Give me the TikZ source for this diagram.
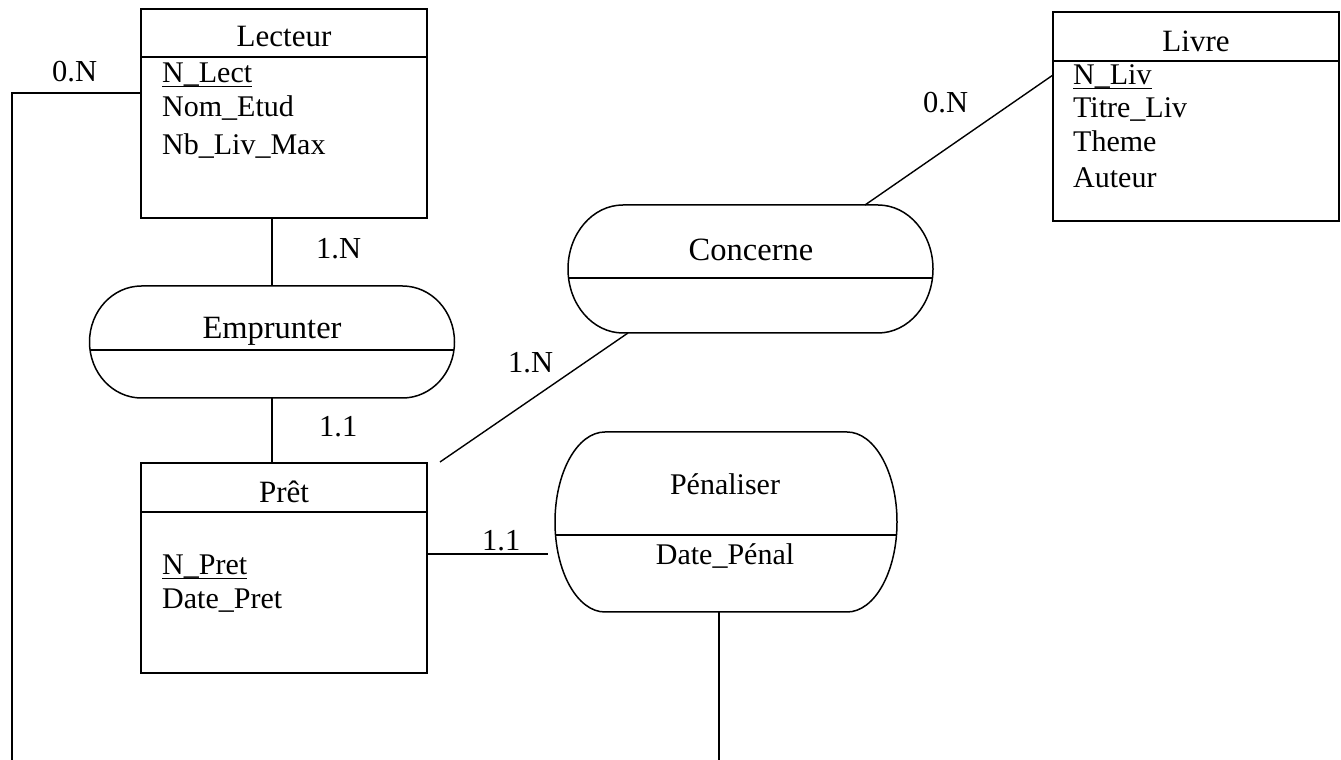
\documentclass[tikz,border=0pt]{standalone}
\usepackage{fontspec}
\setmainfont{Liberation Serif}
\usetikzlibrary{calc}
\newcommand\ulin[1]{\setbox0\hbox{#1}\rlap{\rule[-4pt]{\wd0}{1.4pt}}\box0}
\tikzset{
  x=1pt, y=1pt,
  entity/.style={draw, line width=1.6pt, rectangle, inner sep=0pt, outer sep=0pt},
  relbox/.style={draw=none, rectangle, inner sep=0pt, outer sep=0pt},
  shapeline/.style={line width=1.5pt},
  link/.style={line width=1.4pt},
  attr/.style={inner sep=0pt, anchor=base west, font=\fontsize{30}{36}\selectfont},
  ttl/.style={inner sep=0pt, anchor=base, font=\fontsize{31}{36}\selectfont},
  reltxt/.style={inner sep=0pt, anchor=base, font=\fontsize{32.5}{38}\selectfont},
  card/.style={inner sep=0pt, anchor=base west, font=\fontsize{30.5}{36}\selectfont},
}
\newcommand\relshape[4]{%
  \draw[shapeline] ([xshift=#2]#1.north west) -- ([xshift=-#2]#1.north east)
     arc[start angle=90,end angle=-90,x radius=#2,y radius=#3]
     -- ([xshift=#2]#1.south west)
     arc[start angle=270,end angle=90,x radius=#2,y radius=#3] -- cycle;
  \begin{scope}
    \clip ([xshift=#2]#1.north west) -- ([xshift=-#2]#1.north east)
     arc[start angle=90,end angle=-90,x radius=#2,y radius=#3]
     -- ([xshift=#2]#1.south west)
     arc[start angle=270,end angle=90,x radius=#2,y radius=#3] -- cycle;
    \draw[shapeline] ([yshift=#4]#1.west) -- ([yshift=#4]#1.east);
  \end{scope}}
\begin{document}
\begin{tikzpicture}
\useasboundingbox (0,0) rectangle (1341,760);
% entities
\node[entity, minimum width=286pt, minimum height=209pt] (lect) at (284,646.5) {};
\draw[entity] ([yshift=-48pt]lect.north west) -- ([yshift=-48pt]lect.north east);
\node[ttl] (lectT) at (284,713) {Lecteur};
\node[attr] (a1) at (162,677) {\ulin{N\_Lect}};
\node[attr] (a2) at (162,643) {Nom\_Etud};
\node[attr] (a3) at (162,605) {Nb\_Liv\_Max};

\node[entity, minimum width=286pt, minimum height=209pt] (livre) at (1196,643.5) {};
\draw[entity] ([yshift=-49pt]livre.north west) -- ([yshift=-49pt]livre.north east);
\node[ttl] (livreT) at (1196,708) {Livre};
\node[attr] (b1) at (1073,675) {\ulin{N\_Liv}};
\node[attr] (b2) at (1073,642) {Titre\_Liv};
\node[attr] (b3) at (1073,608) {Theme};
\node[attr] (b4) at (1073,572) {Auteur};

\node[entity, minimum width=286pt, minimum height=210pt] (pret) at (284,192) {};
\draw[entity] ([yshift=-49pt]pret.north west) -- ([yshift=-49pt]pret.north east);
\node[ttl] (pretT) at (284,257) {Prêt};
\node[attr] (c1) at (162,185) {\ulin{N\_Pret}};
\node[attr] (c2) at (162,151) {Date\_Pret};

% relations
\node[relbox, minimum width=365pt, minimum height=128pt] (conc) at (750.5,491) {};
\relshape{conc}{55pt}{64pt}{-9pt}
\node[reltxt] (concT) at (751,499) {Concerne};

\node[relbox, minimum width=365pt, minimum height=112pt] (emp) at (272,418) {};
\relshape{emp}{52pt}{56pt}{-8pt}
\node[reltxt] (empT) at (272,421) {Emprunter};

\node[relbox, minimum width=342pt, minimum height=180pt] (pen) at (726,238) {};
\relshape{pen}{50pt}{90pt}{-13pt}
\node[reltxt, font=\fontsize{30}{36}\selectfont] (penT) at (725,265) {Pénaliser};
\node[reltxt, font=\fontsize{30}{36}\selectfont] (penA) at (725,195) {Date\_Pénal};

% connectors
\coordinate (leftbot) at (12,0);
\coordinate (penbot) at (719,0);
\draw[link] ([yshift=-84pt]lect.north west) -| (leftbot);
\draw[link] (emp.north) -- (emp.north |- lect.south);
\draw[link] (emp.south) -- (emp.south |- pret.north);
\draw[link] ([yshift=-63pt]livre.north west) -- ([xshift=-68pt]conc.north east);
\draw[link] ([xshift=60pt]conc.south west) -- ([xshift=13pt,yshift=1pt]pret.north east);
\draw[link] ([yshift=14pt]pret.east) -- ([xshift=-7pt,yshift=-32pt]pen.west);
\draw[link] ([xshift=-7pt]pen.south) -- (penbot);

% cardinalities
\node[card] (k1) at (52,678) {0.N};
\node[card] (k2) at (923,647) {0.N};
\node[card] (k3) at (316,501) {1.N};
\node[card] (k4) at (319,323) {1.1};
\node[card] (k5) at (508,387) {1.N};
\node[card] (k6) at (482,209) {1.1};
\end{tikzpicture}
\end{document}
